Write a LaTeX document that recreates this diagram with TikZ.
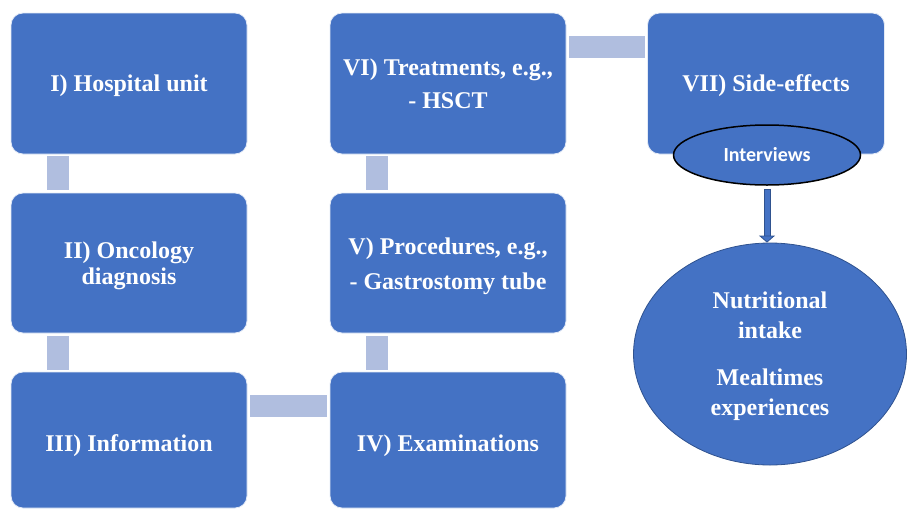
\documentclass[tikz,border=0pt]{standalone}
\usepackage{fontspec}
\setmainfont{Liberation Serif}
\newfontfamily\calibri{Carlito}
\usetikzlibrary{arrows.meta,shapes.geometric}
\definecolor{boxblue}{HTML}{4472C4}
\definecolor{darkblue}{HTML}{2F528F}
\definecolor{connblue}{HTML}{B0BEDF}
\tikzset{
  stagebox/.style={rectangle, rounded corners=12pt, fill=boxblue, draw=white!85!boxblue, line width=0.8pt,
    minimum width=236pt, inner sep=0pt},
  stagetext/.style={inner sep=0pt, align=center, text=white,
    font=\fontsize{24}{26}\selectfont\bfseries},
  conn/.style={draw=connblue, line width=22pt},
}
\begin{document}
\begin{tikzpicture}[x=1pt,y=-1pt]
\useasboundingbox (0,0) rectangle (907,509);
% boxes
\node[stagebox, minimum height=141pt] (I) at (129,83.5) {};
\node[stagebox, minimum height=140pt] (II) at (129,263) {};
\node[stagebox, minimum height=136pt] (III) at (129,440) {};
\node[stagebox, minimum height=141pt] (VI) at (448,83.5) {};
\node[stagebox, minimum height=140pt] (V) at (448,263) {};
\node[stagebox, minimum height=136pt] (IV) at (448,440) {};
\node[stagebox, minimum height=141pt, minimum width=237pt] (VII) at (766,83.5) {};
% texts
\node[stagetext] (It) at ([yshift=-2pt]I.center) {I) Hospital unit};
\node[stagetext] (IIt) at ([yshift=-3pt]II.center) {II) Oncology\\diagnosis};
\node[stagetext] (IIIt) at ([yshift=-6pt]III.center) {III) Information};
\node[stagetext] (VIt) at ([yshift=-0.5pt]VI.center) {VI) Treatments, e.g.,\\[7pt]- HSCT};
\node[stagetext] (Vt) at ([yshift=-3pt]V.center) {V) Procedures, e.g.,\\[9pt]- Gastrostomy tube};
\node[stagetext] (IVt) at ([yshift=-6pt]IV.center) {IV) Examinations};
\node[stagetext] (VIIt) at ([yshift=-2pt]VII.center) {VII) Side-effects};
% connectors
\draw[conn, shorten <=2pt, shorten >=3pt] ([xshift=-71pt]I.south) -- ([xshift=-71pt]II.north);
\draw[conn, shorten <=3pt, shorten >=2pt] ([xshift=-71pt]II.south) -- ([xshift=-71pt]III.north);
\draw[conn, shorten <=2pt, shorten >=3pt] ([xshift=-71pt]VI.south) -- ([xshift=-71pt]V.north);
\draw[conn, shorten <=3pt, shorten >=2pt] ([xshift=-71pt]V.south) -- ([xshift=-71pt]IV.north);
\draw[conn, shorten <=3pt, shorten >=3pt] ([yshift=34pt]III.east) -- ([yshift=34pt]IV.west);
\draw[conn, shorten <=3pt, shorten >=2pt] ([yshift=36.5pt]VI.east) -- ([yshift=36.5pt]VII.west);
% ellipses
\node[ellipse, fill=boxblue, draw=black, line width=1.5pt, minimum width=187pt, minimum height=60pt, inner sep=0pt,
  text=white, font=\calibri\fontsize{20}{22}\selectfont\bfseries] (Int) at (767,155) {Interviews};
\node[ellipse, fill=boxblue, draw=darkblue, line width=0.8pt, minimum width=273pt, minimum height=222pt, inner sep=0pt,
  text=white, align=center, font=\fontsize{24}{29.5}\selectfont\bfseries] (Big) at (770,354) {};
\node[stagetext, font=\fontsize{24}{29.5}\selectfont\bfseries] (Bigt) at ([yshift=-2pt]Big.center)
  {Nutritional\\intake\\[18pt]Mealtimes\\experiences};
% arrow
\coordinate (tip) at (Int.south |- Big.north);
\draw[draw=darkblue, line width=7pt, shorten <=3pt, shorten >=6pt] (Int.south) -- (tip);
\draw[draw=boxblue, line width=5pt, shorten <=4pt, shorten >=5pt] (Int.south) -- (tip);
\draw[draw=darkblue, line width=0.8pt, shorten <=51pt, -{Triangle[length=7pt,width=16pt,fill=boxblue]}] (Int.south) -- (tip);
\end{tikzpicture}
\end{document}
